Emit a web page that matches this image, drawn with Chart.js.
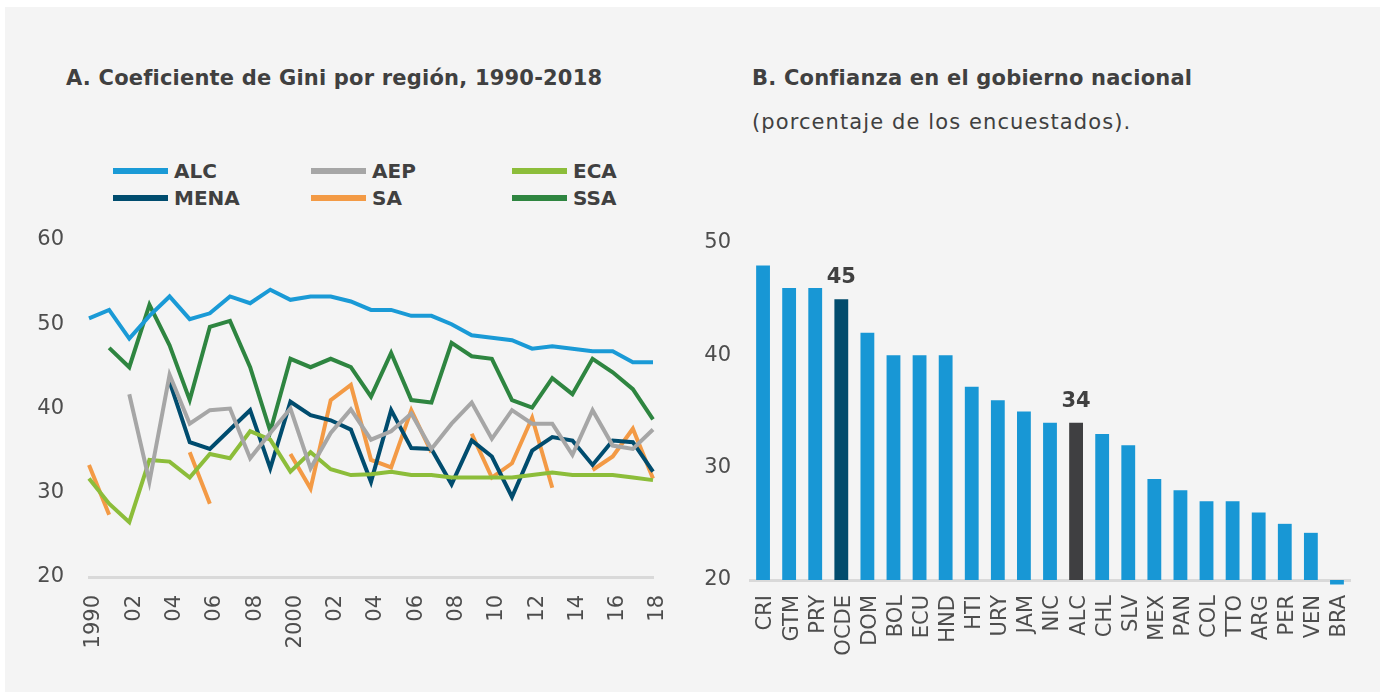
<!DOCTYPE html>
<html>
<head>
<meta charset="utf-8">
<script src="https://cdn.jsdelivr.net/npm/chart.js@4.4.1/dist/chart.umd.min.js"></script>
<style>
  body { margin: 0; background: #ffffff; width: 1380px; height: 692px; overflow: hidden; font-family: "DejaVu Sans", sans-serif; color: #404040; }
  #panel { position: absolute; left: 5px; top: 7px; width: 1375px; height: 685px; background: #f4f4f4; }
  .title { position: absolute; font-weight: 700; font-size: 21px; letter-spacing: 0.2px; line-height: 28px; white-space: nowrap; }
  .sub { position: absolute; font-size: 21px; letter-spacing: 1.1px; line-height: 28px; white-space: nowrap; }
  .box { position: absolute; }
  #legend { position: absolute; left: 0; top: 0; }
  .item { position: absolute; display: flex; align-items: center; font-weight: 700; font-size: 20px; height: 28px; }
  .item span.sw { display: inline-block; width: 55px; height: 6px; margin-right: 6px; }
</style>
</head>
<body>
<div id="panel"></div>
<div class="title" style="left:66px; top:64px;">A. Coeficiente de Gini por región, 1990-2018</div>
<div class="title" style="left:752px; top:64px;">B. Confianza en el gobierno nacional</div>
<div class="sub" style="left:752px; top:108px;">(porcentaje de los encuestados).</div>
<div id="legend"></div>
<div class="box" style="left:0px; top:220px; width:680px; height:472px;"><canvas id="gini"></canvas></div>
<div class="box" style="left:690px; top:220px; width:690px; height:472px;"><canvas id="trust"></canvas></div>
<script>
// panel A: Gini by region
const years = ['1990','1991','1992','1993','1994','1995','1996','1997','1998','1999',
  '2000','2001','2002','2003','2004','2005','2006','2007','2008','2009',
  '2010','2011','2012','2013','2014','2015','2016','2017','2018']
const yearTicks = ['1990','','02','','04','','06','','08','',
  '2000','','02','','04','','06','','08','',
  '10','','12','','14','','16','','18']

const alc  = [50.7, 51.7, 48.3, 51.0, 53.3, 50.6, 51.3, 53.3, 52.5, 54.1, 52.9, 53.3, 53.3, 52.7, 51.7,
              51.7, 51.0, 51.0, 50.0, 48.7, 48.4, 48.1, 47.1, 47.4, 47.1, 46.8, 46.8, 45.5, 45.5]
const aep  = [null, null, 41.7, 31.3, 44.0, 38.2, 39.8, 40.0, 34.1, 37.1, 40.0, 32.9, 37.1, 39.9, 36.3,
              37.3, 39.4, 35.2, 38.2, 40.7, 36.4, 39.8, 38.2, 38.2, 34.5, 39.8, 35.6, 35.2, 37.5]
const eca  = [31.7, 28.7, 26.5, 33.9, 33.7, 31.8, 34.6, 34.1, 37.3, 36.3, 32.5, 34.8, 32.8, 32.1, 32.2,
              32.5, 32.1, 32.1, 31.8, 31.8, 31.8, 31.8, 32.1, 32.4, 32.1, 32.1, 32.1, 31.8, 31.5]
const mena = [null, null, null, null, 43.2, 36.0, 35.2, 37.5, 39.8, 32.9, 40.8, 39.2, 38.6, 37.5, 31.3,
              39.8, 35.3, 35.2, 31.0, 36.2, 34.3, 29.5, 35.0, 36.6, 36.2, 33.3, 36.2, 36.0, 32.5]
const sa   = [33.3, 27.4, null, null, null, 34.8, 28.7, null, null, null, 34.6, 30.5, 41.0, 42.8, 33.9,
              33.0, 39.8, 34.8, null, 37.0, 31.8, 33.5, 38.9, 30.6, null, 32.7, 34.3, 37.6, 31.7]
const ssa  = [null, 47.2, 44.9, 52.3, 47.5, 41.0, 49.7, 50.4, 44.9, 37.3, 45.9, 44.9, 45.9, 44.9, 41.4,
              46.6, 41.0, 40.7, 47.8, 46.2, 45.9, 41.0, 40.1, 43.6, 41.7, 45.9, 44.3, 42.3, 38.7]
const giniTicks = [20, 30, 40, 50, 60]

// panel B: trust in national government
const countries = ['CRI','GTM','PRY','OCDE','DOM','BOL','ECU','HND','HTI','URY','JAM','NIC',
  'ALC','CHL','SLV','MEX','PAN','COL','TTO','ARG','PER','VEN','BRA']
const trust = [48, 46, 46, 45, 42, 40, 40, 40, 37.2, 36, 35, 34, 34, 33, 32, 29, 28, 27, 27, 26, 25, 24.2, 19.6]
const labelled = ['OCDE', 'ALC']
const trustTicks = [20, 30, 40, 50]

const ink = '#404040'
const tickInk = '#4d4d4d'
const tickFont = { family: 'DejaVu Sans', size: 21 }

// keep chart area where the layout padding puts it
const noScalePadding = s => { s.paddingTop = 0; s.paddingBottom = 0; s.paddingLeft = 0; s.paddingRight = 0 }

const giniSets = [
  { label: 'ALC', data: alc, borderColor: '#1a9ad6' },
  { label: 'AEP', data: aep, borderColor: '#a6a6a6' },
  { label: 'ECA', data: eca, borderColor: '#8cbd3a' },
  { label: 'MENA', data: mena, borderColor: '#004c6e' },
  { label: 'SA', data: sa, borderColor: '#f39a45' },
  { label: 'SSA', data: ssa, borderColor: '#2e8540' }
]

// legend laid out as 3 columns x 2 rows
const legendCols = [113, 311, 512]
const legendRows = [171, 198]
const legendEl = document.getElementById('legend')
giniSets.forEach((ds, i) => {
  const el = document.createElement('div')
  el.className = 'item'
  el.style.left = legendCols[i % 3] + 'px'
  el.style.top = (legendRows[Math.floor(i / 3)] - 14) + 'px'
  el.innerHTML = '<span class="sw" style="background:' + ds.borderColor + '"></span>' + ds.label
  legendEl.appendChild(el)
})

new Chart(document.getElementById('gini'), {
  type: 'line',
  data: {
    labels: years,
    datasets: giniSets.map(ds => Object.assign({ borderWidth: 4, pointRadius: 0, tension: 0, spanGaps: false, fill: false }, ds))
  },
  options: {
    responsive: true,
    maintainAspectRatio: false,
    animation: false,
    layout: { padding: { top: 20, right: 27, left: 0, bottom: 0 } },
    plugins: { legend: { display: false }, tooltip: { enabled: false } },
    scales: {
      x: {
        grid: { display: false, drawTicks: false },
        border: { display: true, color: '#d9d9d9', width: 3 },
        ticks: {
          autoSkip: false, maxRotation: 90, minRotation: 90, padding: 18, labelOffset: 5,
          color: tickInk, font: tickFont,
          callback: (v, i) => yearTicks[i]
        },
        afterFit: s => { s.height = 115; noScalePadding(s) }
      },
      y: {
        min: 20, max: 60,
        grid: { display: false, drawTicks: false },
        border: { display: false },
        afterBuildTicks: s => { s.ticks = giniTicks.map(v => ({ value: v })) },
        ticks: { padding: 25, color: tickInk, font: tickFont },
        afterFit: s => { s.width = 89; noScalePadding(s) }
      }
    }
  }
})

// value labels above highlighted bars
const barValueLabels = {
  id: 'barValueLabels',
  afterDatasetsDraw(chart) {
    const ctx = chart.ctx
    const meta = chart.getDatasetMeta(0)
    ctx.save()
    ctx.font = '700 21px "DejaVu Sans"'
    ctx.fillStyle = ink
    ctx.textAlign = 'center'
    ctx.textBaseline = 'alphabetic'
    countries.forEach((c, i) => {
      if (!labelled.includes(c)) return
      const bar = meta.data[i]
      ctx.fillText(String(Math.round(trust[i])), bar.x, bar.y - 16)
    })
    ctx.restore()
  }
}

new Chart(document.getElementById('trust'), {
  type: 'bar',
  data: {
    labels: countries,
    datasets: [{
      data: trust,
      base: 20,
      backgroundColor: countries.map(c => c === 'OCDE' ? '#024c6d' : c === 'ALC' ? '#3f3f41' : '#1897d5'),
      barPercentage: 0.53,
      categoryPercentage: 1,
      clip: false
    }]
  },
  options: {
    responsive: true,
    maintainAspectRatio: false,
    animation: false,
    layout: { padding: { top: 23, right: 30, left: 0, bottom: 0 } },
    plugins: { legend: { display: false }, tooltip: { enabled: false } },
    scales: {
      x: {
        grid: { display: false, drawTicks: false },
        border: { display: true, color: '#d9d9d9', width: 3 },
        ticks: { autoSkip: false, maxRotation: 90, minRotation: 90, padding: 15, labelOffset: 3, color: tickInk, font: tickFont },
        afterFit: s => { s.height = 112; noScalePadding(s) }
      },
      y: {
        min: 20, max: 50,
        grid: { display: false, drawTicks: false },
        border: { display: false },
        afterBuildTicks: s => { s.ticks = trustTicks.map(v => ({ value: v })) },
        ticks: { padding: 19, color: tickInk, font: tickFont },
        afterFit: s => { s.width = 60; noScalePadding(s) }
      }
    }
  },
  plugins: [barValueLabels]
})
</script>
</body>
</html>
